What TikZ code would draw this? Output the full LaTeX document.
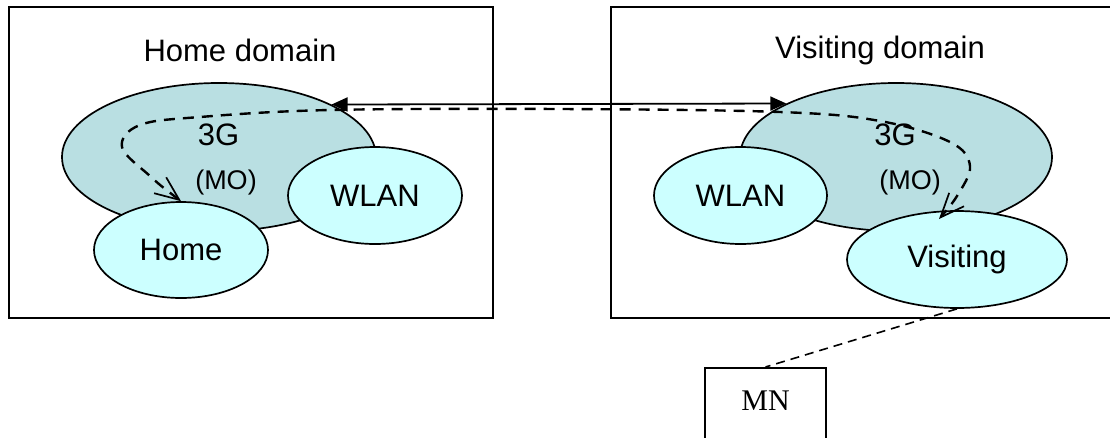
\documentclass[tikz,border=0pt]{standalone}
\usepackage{fontspec}
\setmainfont{Liberation Sans}
\newfontfamily\serifface{Liberation Serif}
\usetikzlibrary{shapes.geometric,arrows.meta}

\definecolor{cellfill}{HTML}{B9DFE2}
\definecolor{netfill}{HTML}{CCFFFF}

\begin{document}
\begin{tikzpicture}[x=1pt,y=-1pt,
  domainbox/.style={line width=2pt},
  cell/.style={ellipse,draw,line width=1.7pt,fill=cellfill,inner sep=0pt},
  net/.style={ellipse,draw,line width=1.7pt,fill=netfill,inner sep=0pt,
              font=\fontsize{31}{36}\selectfont},
  title/.style={font=\fontsize{31}{36}\selectfont},
  tag/.style={font=\fontsize{31}{36}\selectfont},
  subtag/.style={font=\fontsize{27}{32}\selectfont},
  route/.style={line width=2.4pt,dash pattern=on 11pt off 8pt,
                {Straight Barb[length=24pt,width=20pt,line width=1.7pt]}-{Straight Barb[length=24pt,width=20pt,line width=1.7pt]}},
  signal/.style={line width=1.8pt,
                 {Triangle[length=16pt,width=14pt]}-{Triangle[length=16pt,width=14pt]}},
  link/.style={line width=1.6pt,dash pattern=on 9pt off 6pt}]

\useasboundingbox (0,0) rectangle (1110,437);
\clip (0,0) rectangle (1110,437);

% domain frames
\draw[domainbox] (9,7) rectangle (493,318);
\draw[domainbox] (611,7) rectangle (1125,318);
\node[title] (homeTitle) at (240,50) {Home domain};
\node[title] (visitTitle) at (880,50) {Visiting domain};

% home domain networks
\node[cell,minimum width=314pt,minimum height=148pt] (h3g) at (219,157) {};
\node[net,minimum width=174pt,minimum height=97pt] (hwlan) at (375,195.5) {WLAN};
\node[net,minimum width=174pt,minimum height=96pt] (home) at (181,250) {Home};
\node[tag] (h3gtext) at (218.5,135) {3G};
\node[subtag] (hmo) at (226,183) {(MO)};

% visiting domain networks
\node[cell,minimum width=312pt,minimum height=148pt] (v3g) at (896,157) {};
\node[net,minimum width=173pt,minimum height=97pt] (vwlan) at (740.5,195.5) {WLAN};
\node[net,minimum width=220pt,minimum height=97pt] (visit) at (957,259.5) {Visiting};
\node[tag] (v3gtext) at (895,135) {3G};
\node[subtag] (vmo) at (910,183) {(MO)};

% mobile node
\node[draw,line width=1.7pt,inner sep=0pt,text height=43pt,text depth=40pt,
      text width=121pt,align=center,anchor=north,
      font=\serifface\fontsize{30}{36}\selectfont] (mn) at (765.5,367) {MN};
\draw[link] (visit.south) -- (mn.north);

% signalling between the two 3G networks
\draw[signal] (h3g.25.8) -- (v3g.154.2);

% route from the home network to the visited network
\draw[route] plot[smooth,tension=0.6] coordinates {
  (home.north) (150,176) (122,147) (140,125) (200,117) (330,110)
  (560,109) (780,112) (880,121) (950,142) (970,166) (957,196) (939,219)};

\end{tikzpicture}
\end{document}
